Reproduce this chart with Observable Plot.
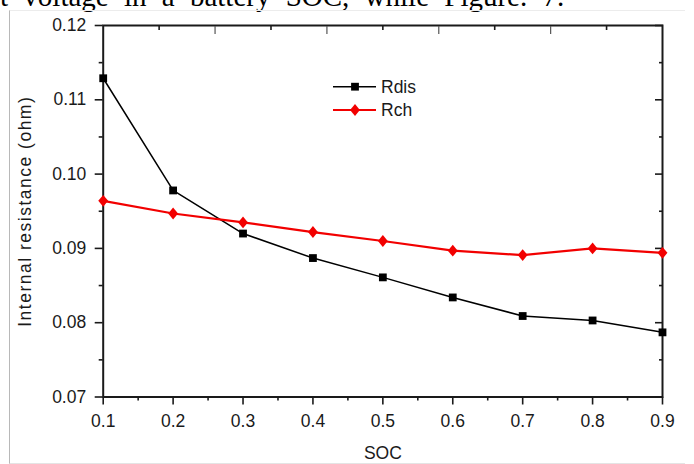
<!DOCTYPE html>
<html><head><meta charset="utf-8">
<script src="https://cdn.jsdelivr.net/npm/d3@7"></script>
<script src="https://cdn.jsdelivr.net/npm/@observablehq/plot@0.6"></script>
<style>
html,body{margin:0;padding:0;background:#fff;width:694px;height:464px;overflow:hidden;}
#wrap{position:relative;width:694px;height:464px;}
#top{position:absolute;left:-8px;top:-17.5px;font-family:"Liberation Serif","Times New Roman",serif;font-size:29px;line-height:26px;word-spacing:8px;white-space:nowrap;color:#000;}
#border{position:absolute;left:9px;top:10px;width:675px;height:452px;border-left:1px solid #b8b8b8;border-top:1px solid #ececec;border-bottom:1px solid #e4e4e4;}
#chart{position:absolute;left:0;top:0;}
#legend{position:absolute;left:0;top:0;pointer-events:none;}
</style></head><body>
<div id="wrap">
  <div id="top">it voltage in a battery SOC, while Figure. 7.</div>
  <div id="border"></div>
  <div id="chart"></div>
  <svg id="legend" width="694" height="464"></svg>
</div>
<script>
// ---- data ----
const soc  = [0.1, 0.2, 0.3, 0.4, 0.5, 0.6, 0.7, 0.8, 0.9];
const rdis = [0.1129, 0.0978, 0.0920, 0.0887, 0.0861, 0.0834, 0.0809, 0.0803, 0.0787];
const rch  = [0.0964, 0.0947, 0.0935, 0.0922, 0.0910, 0.0897, 0.0891, 0.0900, 0.0894];
const seriesNames = ["Rdis", "Rch"];
const yMajor = [0.07, 0.08, 0.09, 0.10, 0.11, 0.12];
const yMinor = [0.075, 0.085, 0.095, 0.105, 0.115];
const xMajor = [0.1, 0.2, 0.3, 0.4, 0.5, 0.6, 0.7, 0.8, 0.9];
const xMinor = [0.15, 0.25, 0.35, 0.45, 0.55, 0.65, 0.75, 0.85];
const topMajor = [0.26, 0.42, 0.58, 0.74];
const topMinor = [0.18, 0.34, 0.50, 0.66, 0.82];

const rows = soc.map((s, i) => ({soc: s, rdis: rdis[i], rch: rch[i]}));

const BLACK = "#000";
const RED = "#f20000";
const AX = "#1a1a1a";
const FS = 17.5;

const diamondSym = {
  draw(ctx, size) {
    const r = Math.sqrt(size / Math.PI);
    const h = r * 1.35, w = r * 1.12;
    ctx.moveTo(0, -h); ctx.lineTo(w, 0); ctx.lineTo(0, h); ctx.lineTo(-w, 0); ctx.closePath();
  }
};

const chart = Plot.plot({
  width: 694,
  height: 464,
  marginLeft: 102.7,
  marginRight: 32,
  marginTop: 25,
  marginBottom: 67.5,
  style: {fontFamily: "Liberation Sans, Arial, sans-serif", fontSize: FS + "px", color: AX, background: "transparent", overflow: "visible"},
  x: {domain: [0.1, 0.9]},
  y: {domain: [0.07, 0.12]},
  marks: [
    Plot.frame({stroke: AX, strokeWidth: 2}),
    Plot.axisY({ticks: yMajor, tickSize: 8, tickPadding: 9, strokeWidth: 1.6, fontSize: FS, tickFormat: d3.format(".2f"),
      label: "Internal resistance (ohm)", labelAnchor: "center", labelArrow: "none", labelOffset: 85}),
    Plot.axisY({ticks: yMinor, tickSize: 4, strokeWidth: 1.6, fill: "none", label: null}),
    Plot.axisY({anchor: "right", ticks: yMajor, tickSize: 8, dx: -8, strokeWidth: 1.6, fill: "none", label: null}),
    Plot.axisY({anchor: "right", ticks: yMinor, tickSize: 4, dx: -4, strokeWidth: 1.6, fill: "none", label: null}),
    Plot.axisX({ticks: xMajor, tickSize: 8, tickPadding: 10, strokeWidth: 1.6, fontSize: FS, tickFormat: d3.format(".1f"),
      label: "SOC", labelAnchor: "center", labelArrow: "none", labelOffset: 62}),
    Plot.axisX({ticks: xMinor, tickSize: 4, strokeWidth: 1.6, fill: "none", label: null}),
    Plot.axisX({anchor: "top", ticks: topMajor, tickSize: 8, dy: 8, strokeWidth: 1.2, stroke: "#555", fill: "none", label: null}),
    Plot.axisX({anchor: "top", ticks: topMinor, tickSize: 4, dy: 4, strokeWidth: 1.6, fill: "none", label: null}),
    Plot.line(rows, {x: "soc", y: "rdis", stroke: BLACK, strokeWidth: 1.5}),
    Plot.dot(rows, {x: "soc", y: "rdis", symbol: "square", r: 4.4, fill: BLACK}),
    Plot.line(rows, {x: "soc", y: "rch", stroke: RED, strokeWidth: 2.2}),
    Plot.dot(rows, {x: "soc", y: "rch", symbol: diamondSym, r: 4.4, fill: RED})
  ]
});
document.getElementById("chart").appendChild(chart);

// y label styling
d3.select(chart).selectAll('g[aria-label="y-axis label"] text').style("letter-spacing", "1.5px");

// legend
const lg = d3.select("#legend");
const items = [
  {name: seriesNames[0], color: BLACK, sw: 1.5, sym: d3.symbolSquare, size: Math.PI * 4.4 * 4.4},
  {name: seriesNames[1], color: RED, sw: 2.2, sym: diamondSym, size: Math.PI * 4.4 * 4.4}
];
items.forEach((it, i) => {
  const y = 86.7 + i * 23.3;
  const g = lg.append("g").attr("transform", `translate(0,${y})`);
  g.append("line").attr("x1", 333).attr("x2", 376).attr("y1", 0).attr("y2", 0)
    .attr("stroke", it.color).attr("stroke-width", it.sw);
  g.append("path").attr("transform", "translate(355,0)").attr("d", d3.symbol(it.sym, it.size)()).attr("fill", it.color);
  g.append("text").attr("x", 381).attr("y", 0).attr("dy", "0.36em")
    .attr("font-family", "Liberation Sans, Arial, sans-serif").attr("font-size", FS).attr("fill", AX).text(it.name);
});
</script>
</body></html>
